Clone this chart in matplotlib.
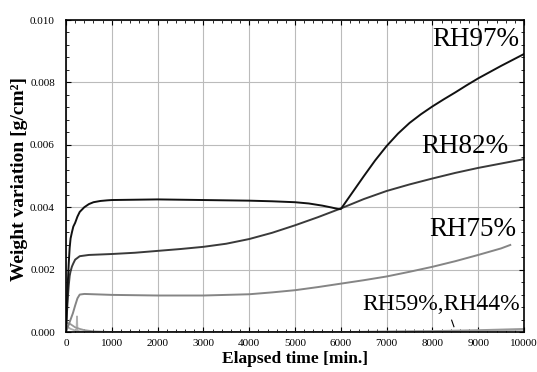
import matplotlib
matplotlib.use("Agg")
import matplotlib.pyplot as plt
from matplotlib.ticker import MultipleLocator

plt.rcParams['font.family'] = ['Liberation Serif', 'DejaVu Serif']

t97 = [0, 20, 40, 60, 80, 100, 130, 160, 200, 250, 300, 400, 500, 600, 750, 900, 1000, 1500, 2000,
       2500, 3000, 3500, 4000, 4500, 5000, 5300, 5600, 5800, 5950, 6000, 6100, 6200, 6300, 6400,
       6500, 6750, 7000, 7250, 7500, 7750, 8000, 8250, 8500, 8750, 9000, 9250, 9500, 9750, 10000]
v97 = [0, 0.0008, 0.0016, 0.0022, 0.0027, 0.0030, 0.0032, 0.00338, 0.0035, 0.00370, 0.00385, 0.00400,
       0.00410, 0.00416, 0.00420, 0.00422, 0.00423, 0.00424, 0.00425, 0.00424, 0.00423, 0.00422, 0.00421,
       0.00419, 0.00416, 0.00412, 0.00405, 0.00399, 0.00394, 0.00394, 0.00415, 0.00436, 0.00457,
       0.00478, 0.00499, 0.00550, 0.00596, 0.00636, 0.00670, 0.00698, 0.00723, 0.00746, 0.00768,
       0.00791, 0.00813, 0.00833, 0.00853, 0.00872, 0.00891]

t82 = [0, 20, 40, 60, 80, 100, 130, 160, 200, 300, 500, 1000, 1500, 2000, 2500, 3000, 3500, 4000,
       4500, 5000, 5500, 6000, 6500, 7000, 7500, 8000, 8500, 9000, 9500, 10000]
v82 = [0, 0.0006, 0.0011, 0.0015, 0.0018, 0.00195, 0.0021, 0.0022, 0.00232, 0.00243, 0.00247,
       0.00250, 0.00254, 0.00260, 0.00266, 0.00273, 0.00283, 0.00298, 0.00318, 0.00342, 0.00368,
       0.00396, 0.00426, 0.00452, 0.00473, 0.00492, 0.00510, 0.00526, 0.00540, 0.00554]

t75 = [0, 50, 100, 150, 200, 250, 300, 400, 600, 1000, 2000, 3000, 4000, 4500, 5000, 5500, 6000,
       6500, 7000, 7500, 8000, 8500, 9000, 9500, 9700]
v75 = [0, 0.0002, 0.0004, 0.0006, 0.00085, 0.00108, 0.00120, 0.00122, 0.00121, 0.00119, 0.00117,
       0.00117, 0.00121, 0.00127, 0.00134, 0.00144, 0.00155, 0.00166, 0.00178, 0.00193, 0.00209,
       0.00227, 0.00247, 0.00268, 0.00279]

t59 = [0, 50, 100, 200, 300, 400, 600, 800, 1000, 2000, 4000, 6000, 8000, 9000, 10000]
v59 = [0.0003, 0.00028, 0.00025, 0.00015, 0.0001, 0.00006, 0.00002, 0.00001, 0, 0, 0, 0, 0.00003,
       0.00006, 0.0001]

t44 = [0, 50, 100, 200, 230, 240, 250, 300, 400, 600, 1000, 2000, 4000, 6000, 8000, 9000, 10000]
v44 = [0.0002, 0.00015, 0.0001, 0.00005, 0.00004, 0.0005, 0.00004, 0.00002, 0.00001, 0, 0, 0, 0, 0,
       0.00002, 0.00004, 0.00007]

xticks = [0, 1000, 2000, 3000, 4000, 5000, 6000, 7000, 8000, 9000, 10000]
yticks = [0.000, 0.002, 0.004, 0.006, 0.008, 0.010]

fig = plt.figure(figsize=(5.37, 3.72), dpi=100)
ax = fig.add_axes([0.1229, 0.1075, 0.8529, 0.8387])

ax.plot(t44, v44, color='#b0b0b0', lw=1.3)
ax.plot(t59, v59, color='#999999', lw=1.3)
ax.plot(t75, v75, color='#858585', lw=1.4)
ax.plot(t82, v82, color='#3a3a3a', lw=1.4)
ax.plot(t97, v97, color='#111111', lw=1.4)

ax.set_xlim(0, 10000)
ax.set_ylim(0, 0.010)
ax.set_xticks(xticks)
ax.set_xticklabels([str(x) for x in xticks])
ax.set_yticks(yticks)
ax.set_yticklabels([f"{y:.3f}" for y in yticks])
ax.xaxis.set_minor_locator(MultipleLocator(200))
ax.yaxis.set_minor_locator(MultipleLocator(0.0004))
ax.tick_params(which='both', direction='in', top=True, right=True, labelsize=8)
ax.tick_params(axis='x', pad=5)
ax.tick_params(axis='y', pad=8)
ax.tick_params(which='major', length=3.5)
ax.tick_params(which='minor', length=2)
ax.grid(True, which='major', color='#bbbbbb', lw=0.8)
for s in ax.spines.values():
    s.set_linewidth(1.2)

ax.set_xlabel('Elapsed time [min.]', fontsize=12.5, fontweight='bold', labelpad=2)
ax.set_ylabel('Weight variation [g/cm²]', fontsize=14, fontweight='bold')
ax.yaxis.set_label_coords(-0.083, 0.49)

ax.text(9890, 0.00936, 'RH97%', fontsize=19.5, ha='right', va='center')
ax.text(9650, 0.00593, 'RH82%', fontsize=19.5, ha='right', va='center')
ax.text(9825, 0.00327, 'RH75%', fontsize=19.5, ha='right', va='center')
ax.text(9910, 0.00087, 'RH59%,RH44%', fontsize=17, ha='right', va='center')
ax.plot([8420, 8470], [0.00038, 0.00017], color='black', lw=0.8)

fig.savefig('out.png', dpi=100)
